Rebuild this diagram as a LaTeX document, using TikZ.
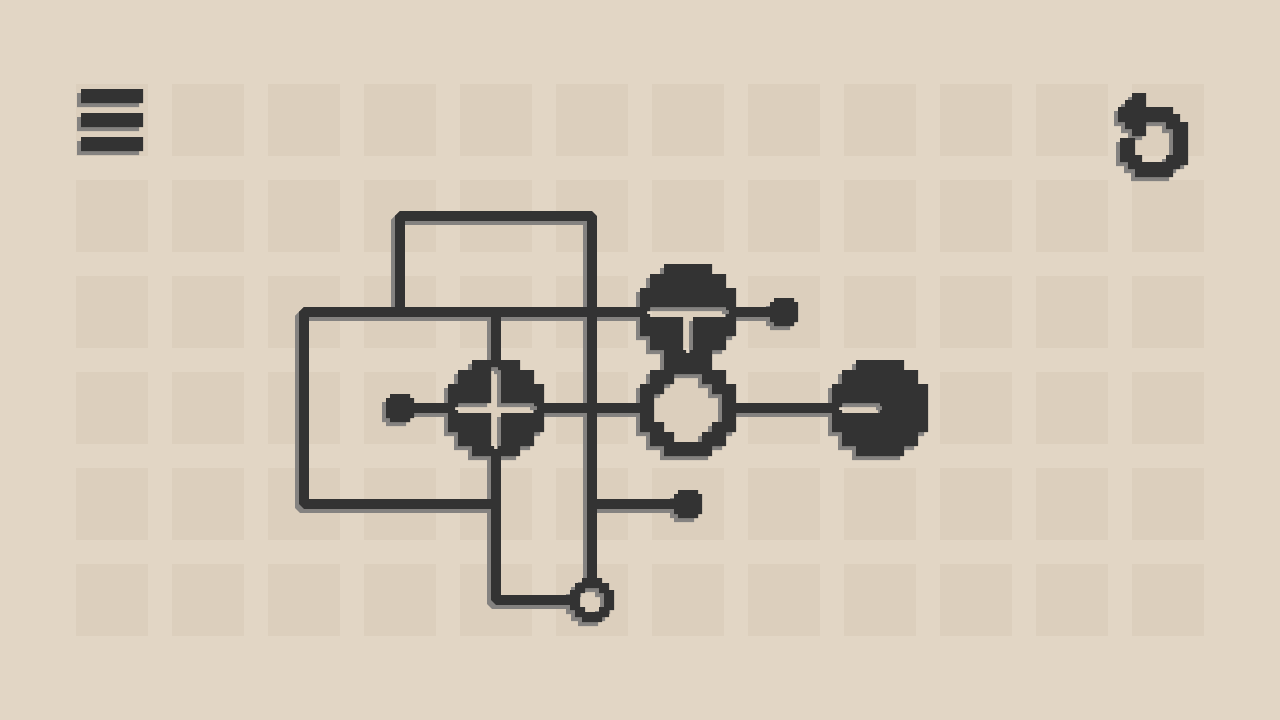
\documentclass[tikz,border=0pt]{standalone}
\definecolor{bgc}{HTML}{E2D6C5}
\definecolor{cellc}{HTML}{DCCFBD}
\definecolor{inkc}{HTML}{333333}
\definecolor{shadc}{HTML}{848280}
\newcommand\discBig{(-24,-48)--(24,-48)--(24,-38)--(38,-38)--(38,-24)--(48,-24)--(48,24)--(38,24)--(38,38)--(24,38)--(24,48)--(-24,48)--(-24,38)--(-38,38)--(-38,24)--(-48,24)--(-48,-24)--(-38,-24)--(-38,-38)--(-24,-38)--cycle}
\newcommand\holeBig{(-14,-34)--(14,-34)--(14,-24)--(24,-24)--(24,-14)--(34,-14)--(34,14)--(24,14)--(24,24)--(14,24)--(14,34)--(-14,34)--(-14,24)--(-24,24)--(-24,14)--(-34,14)--(-34,-14)--(-24,-14)--(-24,-24)--(-14,-24)--cycle}
\newcommand\slitMinus{(-38,-5)--(0,-5)--(0,-2)--(2,-2)--(2,2)--(0,2)--(0,5)--(-38,5)--(-38,2)--(-41,2)--(-41,-1)--(-38,-1)--cycle}
\newcommand\slitT{(-38,-5)--(38,-5)--(38,-2)--(41,-2)--(41,2)--(38,2)--(38,5)--(5,5)--(5,38)--(2,38)--(2,41)--(-2,41)--(-2,38)--(-5,38)--(-5,5)--(-38,5)--(-38,2)--(-41,2)--(-41,-1)--(-38,-1)--cycle}
\newcommand\slitPlus{(-5,-38)--(-5,-41)--(2,-41)--(2,-38)--(5,-38)--(5,-5)--(38,-5)--(38,-2)--(41,-2)--(41,2)--(38,2)--(38,5)--(5,5)--(5,38)--(2,38)--(2,41)--(-2,41)--(-2,38)--(-5,38)--(-5,5)--(-38,5)--(-38,2)--(-41,2)--(-41,-1)--(-38,-1)--(-38,-5)--(-5,-5)--cycle}
\newcommand\dotSmall{(-10,-14)--(10,-14)--(10,-10)--(14,-10)--(14,10)--(10,10)--(10,14)--(-10,14)--(-10,10)--(-14,10)--(-14,-10)--(-10,-10)--cycle}
\newcommand\ringOut{(-10,-22)--(10,-22)--(10,-17)--(17,-17)--(17,-10)--(22,-10)--(22,10)--(17,10)--(17,17)--(10,17)--(10,22)--(-10,22)--(-10,17)--(-17,17)--(-17,10)--(-22,10)--(-22,-10)--(-17,-10)--(-17,-17)--(-10,-17)--cycle}
\newcommand\ringIn{(-7,-12)--(7,-12)--(7,-7)--(12,-7)--(12,7)--(7,7)--(7,12)--(-7,12)--(-7,7)--(-12,7)--(-12,-7)--(-7,-7)--cycle}
\newcommand\undoIcon{(1132,93)--(1146,93)--(1146,107)--(1173,107)--(1173,114)--(1180,114)--(1180,122)--(1188,122)--(1188,165)--(1180,165)--(1180,169)--(1173,169)--(1173,177)--(1135,177)--(1135,169)--(1128,169)--(1128,162)--(1120,162)--(1120,138)--(1135,138)--(1135,155)--(1142,155)--(1142,162)--(1166,162)--(1166,155)--(1173,155)--(1173,129)--(1166,129)--(1166,122)--(1146,122)--(1146,136)--(1132,136)--(1132,129)--(1125,129)--(1125,122)--(1118,122)--(1118,107)--(1125,107)--(1125,100)--(1132,100)--cycle}
\newcommand\menuBars{(81,89) rectangle (143,103) (81,113) rectangle (143,127) (81,137) rectangle (143,151)}
\newcommand\allWires{%
  \draw[wire] (loopA) -- (loopB) -- (loopC) -- (ringTop);
  \draw[wire] (tDot) -- (tRight);
  \draw[wire] (tLeft) -- (mainL) -- (mainB) -- (plusB);
  \draw[wire] (mainT) -- (plusTop);
  \draw[wire] (plusBot) -- (plusBC) -- (ringLeft);
  \draw[wire] (plusDot) -- (plusL);
  \draw[wire] (plusR) -- (oL);
  \draw[wire] (oR) -- (minusL);
  \draw[wire] (midT) -- (midDot);
}
\newcommand\allShapes{%
  \fill[even odd rule] [shift={(496,408)}] \discBig \slitPlus;
  \fill[even odd rule] [shift={(688,312)}] \discBig \slitT;
  \fill[even odd rule] [shift={(688,408)}] \discBig \holeBig;
  \fill[even odd rule] [shift={(880,408)}] \discBig \slitMinus;
  \fill[even odd rule] [shift={(592,600)}] \ringOut \ringIn;
  \fill[shift={(784,312)}] \dotSmall;
  \fill[shift={(400,408)}] \dotSmall;
  \fill[shift={(688,504)}] \dotSmall;
  \fill \undoIcon;
  \fill \menuBars;
}
\tikzset{wire/.style={line width=10pt,line join=bevel,line cap=butt}}
\begin{document}
\begin{tikzpicture}[x=1pt,y=-1pt]
\useasboundingbox (0,0) rectangle (1280,720);
\fill[bgc] (0,0) rectangle (1280,720);
\foreach \i in {0,...,11} \foreach \j in {0,...,5}
  \fill[cellc] ({76+96*\i},{84+96*\j}) rectangle ++(72,72);
\coordinate (loopA) at (400,312);
\coordinate (loopB) at (400,216);
\coordinate (loopC) at (592,216);
\coordinate (ringTop) at (592,578);
\coordinate (ringLeft) at (570,600);
\coordinate (tLeft) at (640,312);
\coordinate (tRight) at (736,312);
\coordinate (tDot) at (784,312);
\coordinate (mainL) at (304,312);
\coordinate (mainB) at (304,504);
\coordinate (plusB) at (496,504);
\coordinate (mainT) at (496,312);
\coordinate (plusTop) at (496,360);
\coordinate (plusBot) at (496,456);
\coordinate (plusBC) at (496,600);
\coordinate (plusDot) at (400,408);
\coordinate (plusL) at (448,408);
\coordinate (plusR) at (544,408);
\coordinate (oL) at (640,408);
\coordinate (oR) at (736,408);
\coordinate (minusL) at (832,408);
\coordinate (midT) at (592,504);
\coordinate (midDot) at (688,504);
\begin{scope}[transform canvas={xshift=-4pt,yshift=-4pt},color=shadc]
  \allWires
  \allShapes
\end{scope}
\begin{scope}[color=inkc]
  \allWires
  \allShapes
\end{scope}
\end{tikzpicture}
\end{document}
